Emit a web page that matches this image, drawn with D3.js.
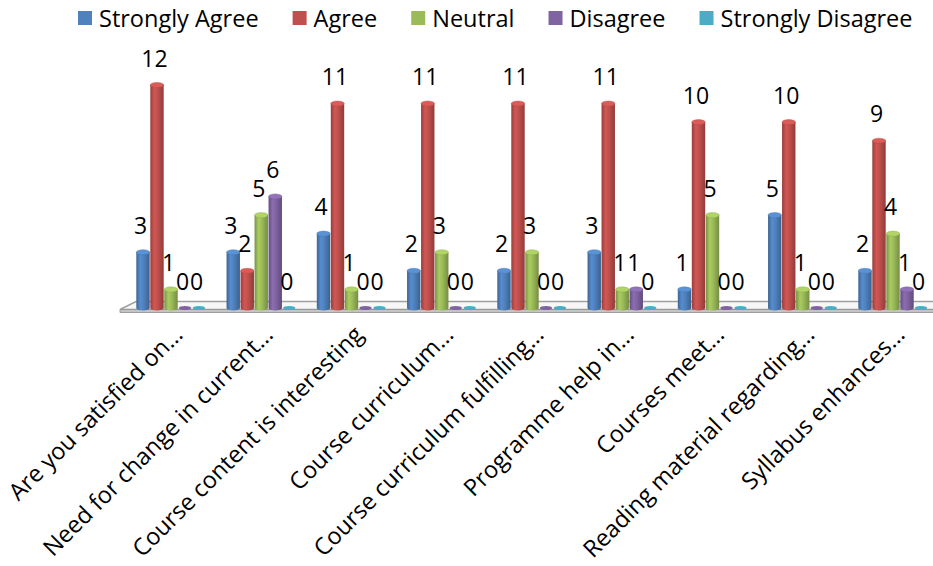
<!DOCTYPE html>
<html>
<head>
<meta charset="utf-8">
<script src="https://cdnjs.cloudflare.com/ajax/libs/d3/7.8.5/d3.min.js"></script>
<style>
  html, body { margin: 0; padding: 0; background: #fff; }
  svg { display: block; font-family: "Open Sans", "DejaVu Sans", sans-serif; }
</style>
</head>
<body>
<svg id="chart" width="933" height="566"></svg>
<script>
const categories = [
  "Are you satisfied on\u2026",
  "Need for change in current\u2026",
  "Course content is interesting",
  "Course curriculum\u2026",
  "Course curriculum fulfilling\u2026",
  "Programme help in\u2026",
  "Courses meet\u2026",
  "Reading material regarding\u2026",
  "Syllabus enhances\u2026"
];
const seriesNames = ["Strongly Agree", "Agree", "Neutral", "Disagree", "Strongly Disagree"];
const seriesColors = ["#4F81BD", "#C0504D", "#9BBB59", "#8064A2", "#4BACC6"];
const stronglyAgree    = [3, 3, 4, 2, 2, 3, 1, 5, 2];
const agree            = [12, 2, 11, 11, 11, 11, 10, 10, 9];
const neutral          = [1, 5, 1, 3, 3, 1, 5, 1, 4];
const disagree         = [0, 6, 0, 0, 0, 1, 0, 0, 1];
const stronglyDisagree = [0, 0, 0, 0, 0, 0, 0, 0, 0];
const seriesValues = [stronglyAgree, agree, neutral, disagree, stronglyDisagree];

const svg = d3.select("#chart");
const defs = svg.append("defs");

const baseY = 308;
const x0 = d3.scaleBand().domain(categories).range([126, 938.25]).padding(0);
const x1 = d3.scaleBand().domain(seriesNames).range([10, 80]).padding(0);
const y = d3.scaleLinear().domain([0, 12]).range([baseY, 85]);

// gradients for cylinders
seriesNames.forEach((s, i) => {
  const c = d3.color(seriesColors[i]);
  const g = defs.append("linearGradient").attr("id", "grad" + i)
    .attr("x1", "0%").attr("x2", "100%").attr("y1", "0%").attr("y2", "0%");
  g.append("stop").attr("offset", "0%").attr("stop-color", c.darker(0.7));
  g.append("stop").attr("offset", "30%").attr("stop-color", c.brighter(0.25));
  g.append("stop").attr("offset", "55%").attr("stop-color", c);
  g.append("stop").attr("offset", "100%").attr("stop-color", c.darker(0.8));
});

// floor
const floor = svg.append("g");
floor.append("path")
  .attr("d", `M120,309.5 L136,301.5 L940,301.5 L940,309.5 Z`)
  .attr("fill", "#f7f7f7").attr("stroke", "#a0a0a0").attr("stroke-width", 1.4);
floor.append("path")
  .attr("d", `M120,309.5 L940,309.5 L940,312.5 L120,312.5 Z`)
  .attr("fill", "#c4c4c4").attr("stroke", "#969696").attr("stroke-width", 0.9);

// bars
const rows = [];
categories.forEach((cat, ci) => {
  seriesNames.forEach((s, si) => {
    rows.push({cat, s, si, v: seriesValues[si][ci]});
  });
});

const bars = svg.append("g");
const w = x1.bandwidth();
rows.forEach(d => {
  const cx = x0(d.cat) + x1(d.s) + w / 2;
  const rx = w / 2 - 0.3;
  const ry = 2.6;
  const c = d3.color(seriesColors[d.si]);
  if (d.v > 0) {
    const yt = y(d.v), yb = y(0);
    bars.append("path")
      .attr("d", `M${cx - rx},${yt} L${cx - rx},${yb} A${rx},${ry} 0 0 0 ${cx + rx},${yb} L${cx + rx},${yt} Z`)
      .attr("fill", `url(#grad${d.si})`);
    bars.append("ellipse")
      .attr("cx", cx).attr("cy", yt).attr("rx", rx).attr("ry", ry)
      .attr("fill", c.brighter(0.35)).attr("stroke", c.darker(0.3)).attr("stroke-width", 0.4);
  } else {
    bars.append("ellipse")
      .attr("cx", cx).attr("cy", y(0)).attr("rx", rx - 0.5).attr("ry", 2)
      .attr("fill", c);
  }
});

// data labels
const labels = svg.append("g").attr("font-size", 23).attr("fill", "#000").attr("text-anchor", "middle");
rows.forEach(d => {
  const cx = x0(d.cat) + x1(d.s) + w / 2 - 2.5;
  labels.append("text")
    .attr("x", cx).attr("y", y(d.v) - 18.5)
    .text(d.v);
});

// category labels
const catG = svg.append("g").attr("font-size", 23.5).attr("fill", "#000");
categories.forEach(cat => {
  const ax = x0(cat) + x0.bandwidth() / 2 + 13;
  const ay = 336;
  catG.append("text")
    .attr("transform", `translate(${ax},${ay}) rotate(-45)`)
    .attr("text-anchor", "end")
    .text(cat);
});

// legend
const leg = svg.append("g").attr("font-size", 23.5);
let lx = 78;
seriesNames.forEach((s, i) => {
  const item = leg.append("g").attr("transform", `translate(${lx},0)`);
  item.append("rect").attr("x", 0).attr("y", 11).attr("width", 14).attr("height", 14)
    .attr("fill", seriesColors[i]);
  const t = item.append("text").attr("x", 21).attr("y", 27).text(s);
  lx += 21 + t.node().getComputedTextLength() + 34;
});
</script>
</body>
</html>
